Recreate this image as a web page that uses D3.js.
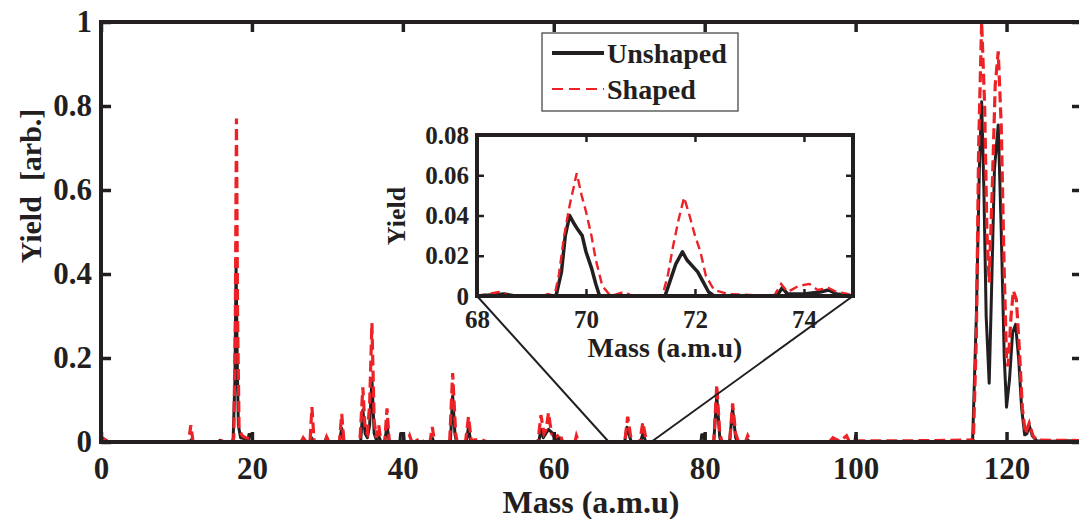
<!DOCTYPE html>
<html>
<head>
<meta charset="utf-8">
<script src="https://cdn.jsdelivr.net/npm/d3@7"></script>
<style>
  html, body { margin: 0; padding: 0; background: #fff; }
  svg { display: block; }
  text { font-family: "Liberation Serif", "Times New Roman", serif; font-weight: bold; fill: #231f20; }
</style>
</head>
<body>
<svg id="chart" width="1079" height="519"></svg>
<script>
// Mass spectra, [mass (a.m.u), yield (arb.)]
const unshaped = [
  [0,0.012],[0.5,0.006],[1,0],
  [11.8,0],[12,0.006],[12.3,0],
  [15.5,0],[15.8,0.004],[16.1,0],
  [17.5,0],[17.75,0.15],[17.9,0.42],[18.05,0.2],[18.2,0.04],[18.5,0.01],[19.0,0.008],[19.5,0],[19.6,0.018],[19.9,0.018],[20.1,0],
  [27.6,0],[27.9,0.01],[28.2,0],
  [29.7,0],[29.9,0.012],[30.1,0],
  [31.6,0],[31.9,0.033],[32.2,0],
  [34.4,0],[34.7,0.076],[35.0,0.02],[35.3,0.01],[35.6,0.04],[35.9,0.15],[36.2,0.02],[36.5,0.005],[36.8,0.015],[37.1,0],
  [37.6,0],[37.9,0.04],[38.2,0],
  [39.6,0],[39.7,0.02],[40.1,0.02],[40.2,0],
  [43.7,0],[43.9,0.01],[44.1,0],
  [46.3,0],[46.6,0.11],[46.9,0.02],[47.1,0],
  [48.4,0],[48.7,0.036],[49.0,0],
  [58.0,0],[58.3,0.03],[58.6,0.01],[59.3,0.03],[59.9,0.02],[60.2,0.005],[60.8,0.01],[61.1,0],
  [69.4,0],[69.7,0.035],[70.1,0.01],[70.3,0],
  [71.5,0],[71.8,0.02],[72.2,0],
  [79.5,0],[79.6,0.017],[79.9,0.017],[80.0,0],
  [81.2,0],[81.6,0.11],[82.0,0.01],[82.2,0],[83.3,0],[83.7,0.08],[84.1,0.01],[84.4,0],
  [85.4,0],[85.7,0.005],[86.0,0],
  [96.9,0],[97.2,0.005],[97.5,0],[99.9,0],[100,0.015],[100.2,0],
  [115.5,0],[116.0,0.3],[116.4,0.65],[116.7,0.81],[117.0,0.6],[117.3,0.3],[117.7,0.14],[118.0,0.35],[118.4,0.65],
  [118.9,0.755],[119.3,0.5],[119.7,0.2],[120.0,0.083],[120.4,0.15],[120.8,0.26],[121.2,0.28],[121.6,0.2],[122.0,0.08],
  [122.4,0.017],[122.7,0.02],[123.0,0.04],[123.4,0.015],[124.0,0.003],[126,0.002],[128,0.003],[130,0.002]
];

const shaped = [
  [0,0.01],[0.4,0.006],[1,0],
  [11.6,0],[11.9,0.04],[12.2,0],
  [15.7,0],[16,0.003],[16.3,0],
  [17.3,0],[17.6,0.01],[17.8,0.3],[17.95,0.77],[18.1,0.3],[18.3,0.03],[18.7,0.015],[19.2,0.01],[19.8,0.008],[20.3,0],
  [26.5,0],[26.8,0.01],[27.2,0],[27.7,0],[27.95,0.083],[28.25,0],
  [29.7,0],[29.9,0.012],[30.2,0],
  [31.6,0],[31.9,0.067],[32.2,0],
  [34.3,0],[34.7,0.13],[35.0,0.03],[35.3,0.02],[35.6,0.09],[35.9,0.283],[36.2,0.05],[36.5,0.01],[36.8,0.04],[37.1,0],
  [37.6,0],[37.9,0.08],[38.2,0],
  [40.6,0],[40.9,0.015],[41.2,0],[41.6,0],[41.8,0.01],[42.0,0],[42.7,0],[42.9,0.005],[43.1,0],
  [43.6,0],[43.9,0.036],[44.2,0],
  [46.2,0],[46.6,0.164],[47.0,0.02],[47.2,0],
  [48.3,0],[48.7,0.06],[49.1,0],[49.5,0.005],[50.5,0.005],[51.2,0],
  [57.9,0],[58.3,0.064],[58.7,0.02],[59.0,0.03],[59.3,0.07],[59.7,0.02],[60.2,0.01],[60.8,0.02],[61.2,0],[62.8,0],[63.0,0.015],[63.3,0],
  [69.4,0],[69.8,0.06],[70.3,0],
  [71.4,0],[71.8,0.047],[72.3,0],
  [81.2,0],[81.6,0.136],[82.0,0.02],[82.3,0],[83.3,0],[83.7,0.092],[84.1,0.02],[84.5,0],
  [85.4,0],[85.7,0.015],[86.1,0],
  [96.5,0],[97,0.01],[97.5,0.005],[98.0,0.003],[98.8,0.015],[99.2,0],[100.5,0.003],[104,0.003],[108,0.003],[112,0.004],[115.4,0.005],
  [115.6,0],[116.0,0.25],[116.3,0.7],[116.7,1.0],[117.1,0.8],[117.4,0.5],[117.7,0.38],[118.1,0.6],[118.5,0.85],
  [118.9,0.93],[119.3,0.75],[119.7,0.4],[120.0,0.2],[120.2,0.18],[120.6,0.3],[120.9,0.36],[121.3,0.34],[121.7,0.22],
  [122.1,0.08],[122.5,0.02],[123.0,0.045],[123.5,0.015],[124,0.005],[126,0.004],[128,0.004],[130,0.003]
];

// Zoomed view around masses 68-75
const insetUnshaped = [
  [68,0],[68.5,0.001],[68.7,0],[69.45,0],[69.55,0.012],[69.62,0.03],[69.7,0.04],[69.78,0.036],[69.85,0.033],
  [69.93,0.03],[70.0,0.022],[70.1,0.014],[70.18,0.006],[70.25,0],[71.45,0],[71.55,0.008],[71.65,0.016],[71.77,0.022],
  [71.85,0.018],[71.95,0.015],[72.05,0.012],[72.15,0.007],[72.25,0.002],[72.35,0],[73.5,0],[73.6,0.004],[73.7,0.001],
  [74.0,0.001],[74.3,0.002],[74.45,0.003],[74.6,0.001],[74.9,0]
];
const insetShaped = [
  [68,0],[68.4,0.002],[68.6,0],[69.2,0],[69.3,0.001],[69.42,0],[69.5,0.01],[69.6,0.03],[69.7,0.045],[69.83,0.061],
  [69.92,0.05],[70.0,0.042],[70.1,0.03],[70.18,0.018],[70.3,0.005],[70.45,0],[70.7,0.002],[70.85,0],[71.4,0],[71.5,0.01],
  [71.6,0.025],[71.7,0.038],[71.8,0.049],[71.9,0.04],[72.0,0.03],[72.1,0.022],[72.2,0.01],[72.35,0.003],[72.6,0.001],
  [73.45,0],[73.58,0.006],[73.7,0.002],[73.9,0.005],[74.1,0.006],[74.25,0.003],[74.45,0.004],[74.6,0.002],[74.8,0.001],[74.9,0]
];

const xTicks = [0, 20, 40, 60, 80, 100, 120];
const yTicks = [0, 0.2, 0.4, 0.6, 0.8, 1];
const insetXTicks = [68, 70, 72, 74];
const insetYTicks = [0, 0.02, 0.04, 0.06, 0.08];
const seriesNames = ["Unshaped", "Shaped"];
const zoomSpan = [67.3, 72.9];

const INK = "#231f20", RED = "#ec2227";
const svg = d3.select("#chart");

// ---------- main axes ----------
const x = d3.scaleLinear().domain([0, 130]).range([101, 1082]);
const y = d3.scaleLinear().domain([0, 1]).range([442, 22]);

svg.append("defs").append("clipPath").attr("id", "mainClip")
  .append("rect").attr("x", 101).attr("y", 22).attr("width", 981).attr("height", 420);

const line = (sx, sy) => d3.line().x(d => sx(d[0])).y(d => sy(d[1]));

const plot = svg.append("g").attr("clip-path", "url(#mainClip)");
plot.append("path").datum(unshaped).attr("d", line(x, y))
  .attr("fill", "none").attr("stroke", INK).attr("stroke-width", 3).attr("stroke-linejoin", "round");
plot.append("path").datum(shaped).attr("d", line(x, y))
  .attr("fill", "none").attr("stroke", RED).attr("stroke-width", 3.2).attr("stroke-dasharray", "11,5");

function styleAxis(g, size) {
  g.select(".domain").remove();
  g.selectAll(".tick line").attr("stroke", INK).attr("stroke-width", 3.5);
  g.selectAll(".tick text").attr("font-size", size).attr("fill", INK)
    .attr("font-family", "Liberation Serif, Times New Roman, serif").attr("font-weight", "bold");
}
const fmt = d => d3.format("~g")(d);

svg.append("g").attr("transform", "translate(0,442)")
  .call(d3.axisBottom(x).tickValues(xTicks).tickSize(-10).tickPadding(15).tickFormat(fmt))
  .call(g => styleAxis(g, 31))
  .call(g => g.selectAll(".tick text").attr("dy", "0.71em"));
svg.append("g").attr("transform", "translate(0,22)")
  .call(d3.axisTop(x).tickValues(xTicks).tickSize(-10).tickFormat(""))
  .call(g => styleAxis(g, 31));
svg.append("g").attr("transform", "translate(101,0)")
  .call(d3.axisLeft(y).tickValues(yTicks).tickSize(-10).tickPadding(9).tickFormat(fmt))
  .call(g => styleAxis(g, 31));
svg.append("g").attr("transform", "translate(1082,0)")
  .call(d3.axisRight(y).tickValues(yTicks).tickSize(-10).tickFormat(""))
  .call(g => styleAxis(g, 31));

svg.append("rect").attr("x", 101).attr("y", 22).attr("width", 981).attr("height", 420)
  .attr("fill", "none").attr("stroke", INK).attr("stroke-width", 4);

svg.append("text").attr("x", 591).attr("y", 513).attr("text-anchor", "middle")
  .attr("font-size", 32).text("Mass (a.m.u)");
svg.append("text").attr("transform", "translate(41,186) rotate(-90)").attr("text-anchor", "middle")
  .attr("font-size", 30).style("white-space", "pre").text("Yield  [arb.]");

// ---------- inset ----------
const ix = d3.scaleLinear().domain([68, 74.9]).range([477, 853]);
const iy = d3.scaleLinear().domain([0, 0.08]).range([296, 135]);

// connectors from the zoomed span to the inset corners
svg.append("line").attr("x1", ix.range()[0]).attr("y1", iy.range()[0])
  .attr("x2", x(zoomSpan[0])).attr("y2", y(0)).attr("stroke", INK).attr("stroke-width", 2);
svg.append("line").attr("x1", ix.range()[1]).attr("y1", iy.range()[0])
  .attr("x2", x(zoomSpan[1])).attr("y2", y(0)).attr("stroke", INK).attr("stroke-width", 2);

svg.append("rect").attr("x", 477).attr("y", 135).attr("width", 376).attr("height", 161).attr("fill", "#fff");
svg.select("defs").append("clipPath").attr("id", "insetClip")
  .append("rect").attr("x", 477).attr("y", 135).attr("width", 376).attr("height", 161);
const ip = svg.append("g").attr("clip-path", "url(#insetClip)");
ip.append("path").datum(insetUnshaped).attr("d", line(ix, iy))
  .attr("fill", "none").attr("stroke", INK).attr("stroke-width", 3.5).attr("stroke-linejoin", "round");
ip.append("path").datum(insetShaped).attr("d", line(ix, iy))
  .attr("fill", "none").attr("stroke", RED).attr("stroke-width", 2.4).attr("stroke-dasharray", "9,5");

svg.append("g").attr("transform", "translate(0,296)")
  .call(d3.axisBottom(ix).tickValues(insetXTicks).tickSize(-7).tickPadding(14).tickFormat(fmt))
  .call(g => styleAxis(g, 25))
  .call(g => g.selectAll(".tick line").attr("stroke-width", 2.5));
svg.append("g").attr("transform", "translate(0,135)")
  .call(d3.axisTop(ix).tickValues(insetXTicks).tickSize(-7).tickFormat(""))
  .call(g => styleAxis(g, 25)).call(g => g.selectAll(".tick line").attr("stroke-width", 2.5));
svg.append("g").attr("transform", "translate(477,0)")
  .call(d3.axisLeft(iy).tickValues(insetYTicks).tickSize(-7).tickPadding(8).tickFormat(fmt))
  .call(g => styleAxis(g, 25)).call(g => g.selectAll(".tick line").attr("stroke-width", 2.5));
svg.append("g").attr("transform", "translate(853,0)")
  .call(d3.axisRight(iy).tickValues(insetYTicks).tickSize(-7).tickFormat(""))
  .call(g => styleAxis(g, 25)).call(g => g.selectAll(".tick line").attr("stroke-width", 2.5));

svg.append("rect").attr("x", 477).attr("y", 135).attr("width", 376).attr("height", 161)
  .attr("fill", "none").attr("stroke", INK).attr("stroke-width", 4);

svg.append("text").attr("x", 665).attr("y", 357).attr("text-anchor", "middle")
  .attr("font-size", 28).text("Mass (a.m.u)");
svg.append("text").attr("transform", "translate(405,216) rotate(-90)").attr("text-anchor", "middle")
  .attr("font-size", 26).text("Yield");

// ---------- legend ----------
const lg = svg.append("g");
lg.append("rect").attr("x", 542).attr("y", 33).attr("width", 196).attr("height", 78)
  .attr("fill", "#fff").attr("stroke", "#3a3a3a").attr("stroke-width", 1.2);
const legendItems = [
  { name: seriesNames[0], color: INK, width: 4, dash: null, yy: 53 },
  { name: seriesNames[1], color: RED, width: 2, dash: "11,6", yy: 89 }
];
legendItems.forEach(it => {
  lg.append("line").attr("x1", 552).attr("x2", 604).attr("y1", it.yy).attr("y2", it.yy)
    .attr("stroke", it.color).attr("stroke-width", it.width).attr("stroke-dasharray", it.dash);
  lg.append("text").attr("x", 607).attr("y", it.yy + 10).attr("font-size", 28).text(it.name);
});
</script>
</body>
</html>
